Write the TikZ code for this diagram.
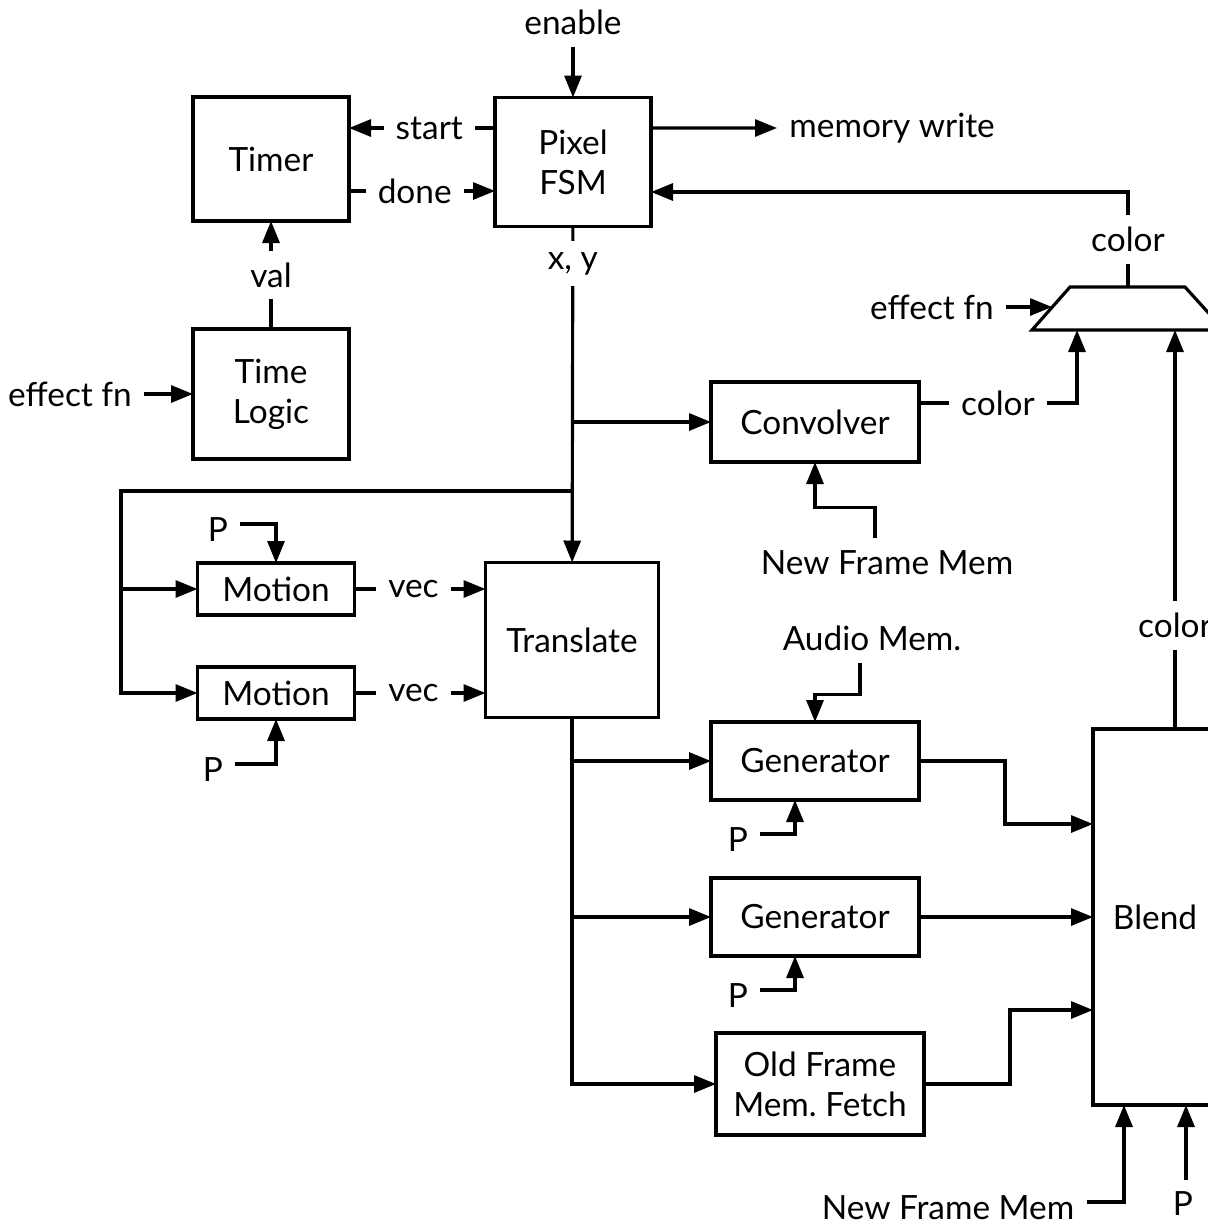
\documentclass[tikz,border=0pt]{standalone}
\usepackage{fontspec}
\setmainfont{Lato}
\usetikzlibrary{arrows.meta}

\tikzset{
  blk/.style={draw, line width=0.9pt, align=center, outer sep=0pt, inner sep=0pt},
  wire/.style={line width=0.9pt},
  arr/.style={wire, -{Triangle[length=2.2mm,width=1.7mm]}},
  gap/.style={fill=white, inner sep=1.2mm},
}

\begin{document}
\begin{tikzpicture}[x=0.1mm, y=-0.1mm, font=\fontsize{9.5}{11.4}\selectfont]
	\useasboundingbox (0,0) rectangle (1208,1228);
	\clip (0,0) rectangle (1208,1228);

	% blocks
	\node[blk, minimum width=15.6mm, minimum height=12.4mm] (timer) at (271,159) {Timer};
	\node[blk, minimum width=15.6mm, minimum height=12.9mm] (fsm) at (573,162) {Pixel\\FSM};
	\node[blk, minimum width=15.6mm, minimum height=13mm] (tlogic) at (271,394) {Time\\Logic};
	\node[blk, minimum width=20.8mm, minimum height=8mm] (conv) at (815,422) {Convolver};
	\node[blk, minimum width=17.3mm, minimum height=15.5mm] (trans) at (572,640) {Translate};
	\node[blk, minimum width=15.7mm, minimum height=5.2mm] (mot1) at (276,589) {Motion};
	\node[blk, minimum width=15.7mm, minimum height=5.2mm] (mot2) at (276,693) {Motion};
	\node[blk, minimum width=20.8mm, minimum height=7.8mm] (gen1) at (815,761) {Generator};
	\node[blk, minimum width=20.8mm, minimum height=7.8mm] (gen2) at (815,917) {Generator};
	\node[blk, minimum width=20.8mm, minimum height=10.2mm] (oldf) at (820,1084) {Old Frame\\Mem.\ Fetch};
	\node[blk, minimum width=12.4mm, minimum height=37.6mm] (blend) at (1155,917) {Blend};

	% mux
	\draw[wire, line join=miter] (1032,330) -- (1070,287) -- (1185,287) -- (1224,330) -- cycle;
	\coordinate (muxtop) at (1128,287);
	\coordinate (muxin) at (1052,307);
	\coordinate (muxa) at (1077,330);
	\coordinate (muxb) at (1175,330);

	% labels
	\node (en) at (573,22) {enable};
	\node[anchor=west] (mw) at (777,128) {memory write};
	\node (efn1) at (70,394) {effect fn};
	\node (efn2) at (932,307) {effect fn};
	\node (p1) at (218,530) {P};
	\node (p2) at (213,770) {P};
	\node (nfm1) at (887,563) {New Frame Mem};
	\node (audio) at (872,638) {Audio Mem.};
	\node (pg1) at (738,840) {P};
	\node (pg2) at (738,996) {P};
	\node (nfm2) at (948,1208) {New Frame Mem};
	\node (pb) at (1183,1204) {P};

	% fsm and timer
	\coordinate (st) at ([yshift=3.4mm]fsm.west);
	\coordinate (mwo) at ([yshift=3.4mm]fsm.east);
	\coordinate (dn) at ([yshift=-3.2mm]timer.east);
	\draw[arr] (en) -- (fsm);
	\draw[arr] (st) -- node[gap, pos=.45]{start} (st -| timer.east);
	\draw[arr] (dn) -- node[gap, pos=.45]{done} (dn -| fsm.west);
	\draw[arr] (mwo) -- (mw.west);
	\draw[arr] (muxtop) |- node[gap, pos=.25]{color} ([yshift=-3mm]fsm.east);
	\draw[arr] (tlogic) -- node[gap]{val} (timer);
	\draw[arr] (tlogic.west -| efn1.east) -- (tlogic.west);

	% x, y fan out
	\coordinate (b2) at (573,491);
	\coordinate (lft) at (121,491);
	\draw[arr] (fsm) -- node[gap, pos=.11, inner sep=1.1mm]{x, y} (trans);
	\draw[arr] (fsm.south |- conv.west) -- (conv.west);
	\draw[arr] (b2) -- (lft) |- (mot2);
	\draw[arr] (lft |- mot1) -- (mot1);

	% motion
	\draw[arr] ([yshift=0.6mm]p1.east) -| (mot1.north);
	\draw[arr] ([yshift=0.6mm]p2.east) -| (mot2.south);
	\draw[arr] (mot1) -- node[gap, pos=.45]{vec} (mot1 -| trans.west);
	\draw[arr] (mot2) -- node[gap, pos=.45]{vec} (mot2 -| trans.west);

	% convolver
	\draw[arr] ([yshift=1.9mm]conv.east) -| node[gap, pos=.25]{color} (muxa);
	\draw[arr] ([xshift=-1.2mm]nfm1.north) -- ++(0,-31) -| (conv.south);
	\draw[arr] (efn2) -- (muxin);
	\draw[arr] (blend.north -| muxb) -- node[gap, pos=.26]{color} (muxb);

	% translate fan out
	\draw[arr] (trans.south) |- (oldf.west);
	\draw[arr] (trans.south |- gen1.west) -- (gen1.west);
	\draw[arr] (trans.south |- gen2.west) -- (gen2.west);
	\draw[arr] ([xshift=-1.2mm]audio.south) -- ++(0,32) -| (gen1.north);
	\draw[arr] ([yshift=0.6mm]pg1.east) -| ([xshift=-2mm]gen1.south);
	\draw[arr] ([yshift=0.6mm]pg2.east) -| ([xshift=-2mm]gen2.south);

	% blend
	\coordinate (bp) at ([xshift=3.1mm]blend.south);
	\draw[arr] (gen1.east) -- ++(86,0) |- ([yshift=9.3mm]blend.west);
	\draw[arr] (gen2) -- (gen2 -| blend.west);
	\draw[arr] (oldf.east) -- ++(86,0) |- ([yshift=-9.3mm]blend.west);
	\draw[arr] ([yshift=0.6mm]nfm2.east) -| ([xshift=-3.1mm]blend.south);
	\draw[arr] (bp |- pb.north) -- (bp);
\end{tikzpicture}
\end{document}
